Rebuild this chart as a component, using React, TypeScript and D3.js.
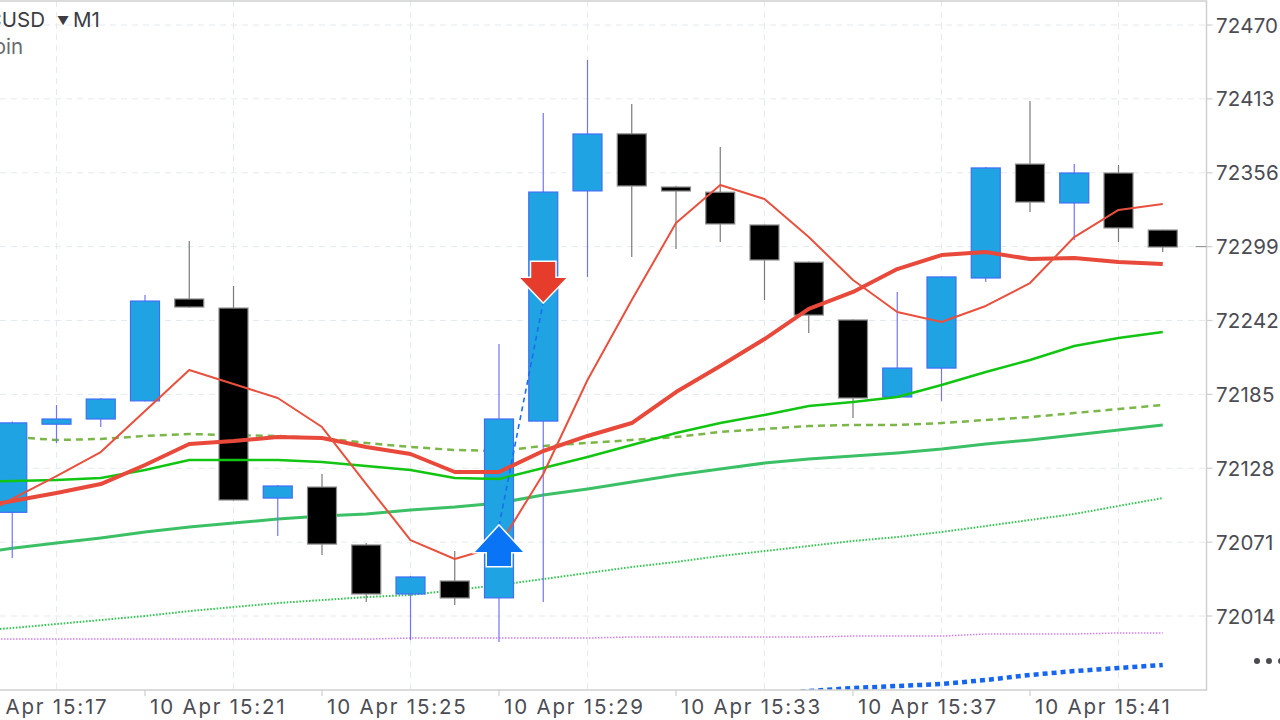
import React from "react";
import * as d3 from "d3";

// ---- DATA ----
const times = ["15:18","15:19","15:20","15:21","15:22","15:23","15:24","15:25","15:26","15:27","15:28","15:29","15:30","15:31","15:32","15:33","15:34","15:35","15:36","15:37","15:38","15:39","15:40","15:41","15:42","15:43","15:44"];
const opens  = [72094,72162,72166,72180,72258.6,72251.6,72105,72113.5,72068.8,72031,72041,72028,72164.4,72342,72386,72345,72341,72315.7,72287,72242.4,72183,72205.3,72274.8,72362.7,72332.7,72355.8,72311.8];
const highs  = [72164,72176.8,72182.2,72261.7,72303.3,72268.6,72115,72123.6,72070.3,72044.8,72064.1,72223.9,72402.1,72443,72409,72346,72375.9,72316,72287.5,72243,72264,72276,72360.4,72411.4,72362.7,72362,72312];
const lows   = [72058.7,72147.5,72159.8,72179.5,72251.8,72103,72075.7,72061.1,72024.8,71995.5,72022.5,71993.9,72024.8,72275.6,72291,72297.2,72302.6,72257.8,72232.3,72166.8,72182.5,72179.9,72271.7,72325.7,72304.1,72302.6,72294.8];
const closes = [72163,72166,72181.4,72257,72252.4,72103.5,72114.3,72069.5,72031,72044.1,72027.9,72166,72341.1,72385.9,72345.8,72341.9,72316.5,72288.7,72246.2,72182.2,72205.3,72275.6,72359.7,72333.4,72355.8,72313.4,72298.7];

// indicator series start one bar before the first visible candle (15:17)
const lineStart = -1;
const maFast = [72086.5,72104.3,72122,72140.5,72172.2,72203.8,72193,72182.2,72159.8,72115.8,72072.6,72058,72068,72123.6,72196.1,72257.8,72317.2,72346.5,72335.7,72306.4,72273.2,72248.6,72240.8,72253.2,72270.9,72306.4,72327.3,72331.9];
const maSlow = [72096.5,72102.7,72108.9,72115.8,72130.5,72146.7,72149,72152.1,72151.3,72144.4,72139,72125.1,72125.1,72141.3,72152.9,72162.9,72186.8,72206.9,72227.7,72250.9,72264,72281.7,72292.5,72294.8,72289.4,72290.2,72287.1,72285.6];
const maGreen = [72117.4,72118.2,72118.9,72120.5,72126.6,72134.4,72134.4,72134.4,72132.8,72129.7,72126.6,72120.5,72119.7,72128.2,72136.7,72145.9,72155.2,72162.9,72169.1,72176,72179.1,72183,72192.2,72202.3,72211.5,72222.3,72228.5,72233.1];
const maDashed = [72152.9,72152.1,72149.8,72150.6,72152.9,72154.4,72153.6,72152.9,72151.3,72147.5,72144.4,72142.1,72141.3,72145.2,72147.5,72149.8,72152.1,72156,72158.3,72160.6,72161.4,72161.4,72162.9,72165.2,72167.5,72170.6,72173.7,72176.8];
const maGreen2 = [72061.5,72066.2,72070.3,72074.2,72078.8,72082.7,72085.7,72088.8,72091.1,72092.7,72095.8,72098.1,72101.2,72107.3,72112,72117.4,72122.8,72127.4,72132,72135.1,72137.4,72139.8,72142.8,72146.7,72149.8,72153.6,72157.5,72161.4];
const maDotted = [72002.4,72004.7,72007.8,72010.9,72014,72017.8,72020.9,72024,72026.3,72028.6,72030.2,72034,72037.9,72042.5,72047.2,72051.8,72055.7,72060.3,72064.1,72068,72071.9,72074.9,72078.8,72083.4,72088.1,72092.7,72098.9,72105];
const maPink = [71996.2,71996.2,71996.2,71996.2,71996.2,71996.2,71996.2,71996.2,71996.2,71996.2,71997,71997,71997,71997,71997,71997.8,71997.8,71997.8,71997.8,71997.8,71998.5,71998.5,71998.5,72000.1,72000.1,72000.1,72000.9,72000.9];
const blueStart = 17;
const maBlue = [71953,71956.1,71958.4,71960,71961.5,71964.6,71968.5,71971.5,71973.9,71976.2];

const yTicks = [72470, 72413, 72356, 72299, 72242, 72185, 72128, 72071, 72014];
const xTickIndex = [-1, 3, 7, 11, 15, 19, 23];
const xTickLabels = ["10 Apr 15:17", "10 Apr 15:21", "10 Apr 15:25", "10 Apr 15:29", "10 Apr 15:33", "10 Apr 15:37", "10 Apr 15:41"];
const xGridIndex = [1, 5, 9, 13, 17, 21, 25];

const buySignal = { index: 11, price: 72083.4 };
const sellSignal = { index: 12, price: 72256.3 };
const lastPrice = 72299;

const symbol = "BTCUSD";
const timeframe = "M1";
const description = "Bitcoin";

// ---- LAYOUT ----
const W = 1280, H = 720;
const plotRight = 1206.5, plotBottom = 690;
const FONT = "Inter, 'Noto Sans', sans-serif";

export default function App() {
  const x = d3.scaleLinear().domain([0, times.length - 1]).range([12.25, 1162.75]);
  const y = d3.scaleLinear().domain([72014, 72470]).range([616, 25]);
  const bodyW = 29;

  const line = (arr: number[], offset = 0) =>
    d3.line<number>().x((_, i) => x(i + offset)).y((d) => y(d))(arr) || "";

  const bx = x(buySignal.index), by = y(buySignal.price);
  const sx = x(sellSignal.index), sy = y(sellSignal.price);
  const upArrow = `M${bx},${by} L${bx + 24},${by + 26} L${bx + 12},${by + 26} L${bx + 12},${by + 40} L${bx - 12},${by + 40} L${bx - 12},${by + 26} L${bx - 24},${by + 26} Z`;
  const downArrow = `M${sx},${sy} L${sx + 23},${sy - 24} L${sx + 12},${sy - 24} L${sx + 12},${sy - 40} L${sx - 12},${sy - 40} L${sx - 12},${sy - 24} L${sx - 23},${sy - 24} Z`;

  return (
    <svg width={W} height={H} style={{ position: "fixed", left: 0, top: 0, background: "#fff" }} fontFamily={FONT}>
      <defs>
        <clipPath id="plot">
          <rect x={0} y={1} width={plotRight} height={plotBottom - 1} />
        </clipPath>
      </defs>
      {/* grid */}
      <g stroke="#e3eaf0" strokeWidth={1} strokeDasharray="6,5">
        {yTicks.map((t) => (
          <line key={"gy" + t} x1={0} x2={plotRight} y1={y(t)} y2={y(t)} />
        ))}
        {xGridIndex.map((i) => (
          <line key={"gx" + i} x1={x(i)} x2={x(i)} y1={1} y2={plotBottom} />
        ))}
      </g>

      <g clipPath="url(#plot)">
        {/* lower lines */}
        <path d={line(maPink, lineStart)} fill="none" stroke="#d47cf0" strokeWidth={1.5} strokeDasharray="1.5,1.5" />
        <path d={line(maBlue, blueStart)} fill="none" stroke="#1565f0" strokeWidth={4.5} strokeDasharray="5,4" />
        <path d={line(maDotted, lineStart)} fill="none" stroke="#35c553" strokeWidth={2} strokeDasharray="1.6,1.6" />
        <path d={line(maGreen2, lineStart)} fill="none" stroke="#3cc065" strokeWidth={3} />
        <path d={line(maDashed, lineStart)} fill="none" stroke="#7ab648" strokeWidth={2.5} strokeDasharray="7,5" />

        {/* candles */}
        {times.map((t, i) => {
          const up = closes[i] >= opens[i];
          const top = y(Math.max(opens[i], closes[i]));
          const bot = y(Math.min(opens[i], closes[i]));
          const cx = x(i);
          return (
            <g key={t}>
              <line x1={cx} x2={cx} y1={y(highs[i])} y2={y(lows[i])} stroke={up ? "#7373ff" : "#7a7a7a"} strokeWidth={1.2} />
              <rect x={cx - bodyW / 2} y={top} width={bodyW} height={Math.max(bot - top, 3)}
                fill={up ? "#1fa3e3" : "#000"} stroke={up ? "#3f6ef5" : "#8c8c8c"} strokeWidth={1.2} />
            </g>
          );
        })}

        <path d={line(maGreen, lineStart)} fill="none" stroke="#12c512" strokeWidth={2.5} />
        <path d={line(maSlow, lineStart)} fill="none" stroke="#e8493a" strokeWidth={4} strokeLinejoin="round" />
        <path d={line(maFast, lineStart)} fill="none" stroke="#e9503d" strokeWidth={2} strokeLinejoin="round" />

        {/* trade line */}
        <line x1={bx} y1={by} x2={sx} y2={sy} stroke="#1a6ef0" strokeWidth={1.6} strokeDasharray="5,4" />
        <path d={upArrow} fill="#0a74f7" stroke="#fff" strokeWidth={3} strokeLinejoin="miter" paintOrder="stroke" />
        <path d={downArrow} fill="#e63c2c" stroke="#fff" strokeWidth={3} strokeLinejoin="miter" paintOrder="stroke" />
      </g>

      {/* frame */}
      <path d={`M-1,1 H${plotRight} V${plotBottom} H-1`} fill="none" stroke="#cfcfcf" strokeWidth={1.5} />

      {/* last price marker */}
      <line x1={plotRight - 11} x2={plotRight} y1={y(lastPrice)} y2={y(lastPrice)} stroke="#8a8a8a" strokeWidth={1} />

      {/* y axis */}
      {yTicks.map((t) => (
        <g key={"yt" + t}>
          <line x1={plotRight} x2={plotRight + 6} y1={y(t)} y2={y(t)} stroke="#cfcfcf" strokeWidth={1.2} />
          <text x={1216} y={y(t)} dominantBaseline="central" fontSize={20.5} fill="#4c4c54" letterSpacing={0.2}>{t}</text>
        </g>
      ))}

      {/* x axis */}
      {xTickIndex.map((idx, k) => (
        <g key={"xt" + k}>
          <line x1={x(idx)} x2={x(idx)} y1={plotBottom} y2={plotBottom + 6} stroke="#cfcfcf" strokeWidth={1.2} />
          <text x={x(idx) + 5} y={706} dominantBaseline="central" fontSize={20.5} fill="#4c4c54" letterSpacing={1.8}>{xTickLabels[k]}</text>
        </g>
      ))}

      {/* title */}
      <text x={45} y={27} textAnchor="end" fontSize={20.5} fill="#3c3c42">{symbol}</text>
      <text x={57} y={25} fontSize={12} fill="#3c3c42">▼</text>
      <text x={73} y={27} fontSize={20.5} fill="#3c3c42">{timeframe}</text>
      <text x={23} y={54} textAnchor="end" fontSize={20.5} fill="#6a6a70">{description}</text>

      {/* more dots */}
      {[1257, 1269, 1281].map((cx) => (
        <circle key={cx} cx={cx} cy={661} r={3} fill="#4a4a50" />
      ))}
    </svg>
  );
}
